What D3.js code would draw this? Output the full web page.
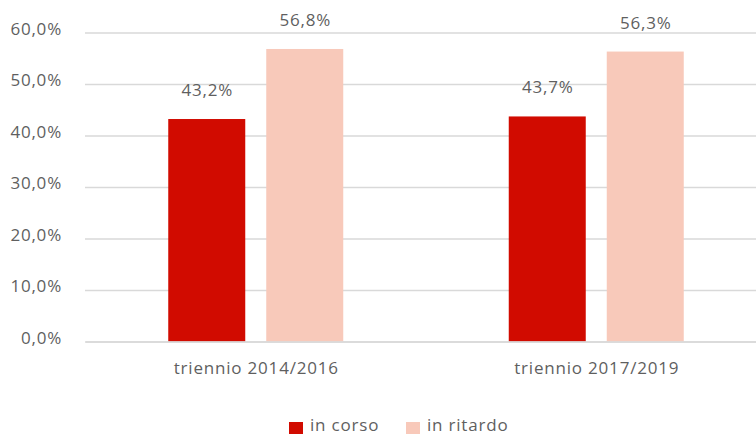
<!DOCTYPE html>
<html><head><meta charset="utf-8">
<script src="https://cdn.jsdelivr.net/npm/d3@7"></script>
<style>body{margin:0;background:#fff}svg{display:block;font-family:"Open Sans",sans-serif}</style>
</head><body><svg id="c" width="756" height="435"></svg>
<script>
const categories = ["triennio 2014/2016", "triennio 2017/2019"];
const seriesNames = ["in corso", "in ritardo"];
const inCorso = [43.2, 43.7];
const inRitardo = [56.8, 56.3];
const yTicks = [0, 10, 20, 30, 40, 50, 60];
const colors = ["#D10B00", "#F8C9BA"];

const FONT = "'Open Sans', sans-serif";
const FS = "17px";
const LS = "0.8px";
const TXT = "#5f5f5f";
const svg = d3.select("#c");
const fmt = v => v.toFixed(1).replace(".", ",") + "%";
const y = d3.scaleLinear().domain([0, 60]).range([341.5, 32.5]);
const x0 = d3.scaleBand().domain(categories).range([85.5, 766.5]).paddingInner(0).paddingOuter(0);
const x1 = d3.scaleBand().domain(seriesNames).range([82.75, 340.5 - 82.75]).paddingInner(21/98).paddingOuter(0);

function styleText(sel) {
  sel.attr("fill", TXT).style("font-size", FS).style("font-family", FONT).style("letter-spacing", LS);
}

// gridlines
const yAxis = d3.axisLeft(y).tickValues(yTicks).tickFormat(fmt).tickSize(-(766 - 85)).tickPadding(23);
const ga = svg.append("g").attr("transform", "translate(85,0)").call(yAxis);
ga.select(".domain").remove();
ga.selectAll(".tick line").attr("stroke", "#D9D9D9").attr("stroke-width", 1.5);
ga.selectAll(".tick text").call(styleText).attr("dy", "0.1em");

const data = categories.map((c, i) => ({ c, vals: [inCorso[i], inRitardo[i]] }));
const g = svg.append("g");
const groups = g.selectAll("g.grp").data(data).join("g").attr("class", "grp")
  .attr("transform", d => `translate(${x0(d.c)},0)`);
groups.selectAll("rect").data(d => d.vals.map((v, j) => ({ v, s: seriesNames[j], j })))
  .join("rect")
  .attr("x", d => x1(d.s)).attr("width", x1.bandwidth())
  .attr("y", d => y(d.v)).attr("height", d => y(0) - y(d.v))
  .attr("fill", d => colors[d.j]);
groups.selectAll("text.val").data(d => d.vals.map((v, j) => ({ v, s: seriesNames[j] })))
  .join("text").attr("class", "val")
  .attr("x", d => x1(d.s) + x1.bandwidth() / 2 + 0.5).attr("y", d => y(d.v) - 23)
  .attr("text-anchor", "middle").call(styleText)
  .text(d => fmt(d.v));

// category labels
const xAxis = d3.axisBottom(x0).tickSize(0).tickPadding(20);
const gx = svg.append("g").attr("transform", "translate(0,341.5)").call(xAxis);
gx.select(".domain").attr("stroke", "#D9D9D9").attr("stroke-width", 1.5);
gx.selectAll(".tick text").call(styleText);
gx.selectAll(".tick").attr("transform", d => `translate(${x0(d) + x0.bandwidth()/2 + 0.5},0)`);

// legend
const legX = [289, 406];
const lg = svg.append("g").selectAll("g").data(seriesNames).join("g")
  .attr("transform", (d, i) => `translate(${legX[i]},421)`);
lg.append("rect").attr("y", 1).attr("width", 14).attr("height", 12).attr("fill", (d, i) => colors[i]);
lg.append("text").attr("x", 21).attr("y", 10).call(styleText).text(d => d);
</script></body></html>
